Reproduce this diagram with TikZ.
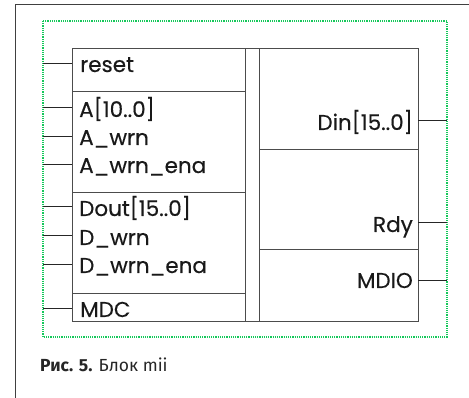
\documentclass[tikz,border=0pt]{standalone}
\usepackage{fontspec}
\setmainfont{Poppins}
\newfontfamily\lblfont{Poppins}[FakeBold=0.35]
\newfontfamily\capfont{Fira Sans}
\definecolor{dotgreen}{RGB}{20,200,90}
\begin{document}
\begin{tikzpicture}[x=1pt,y=-1pt,
  ln/.style={draw=black!70, line width=1pt},
  pin/.style={draw=black!85, line width=0.9pt},
  lbl/.style={inner sep=0pt, font=\lblfont\fontsize{21.5}{22}\selectfont, text=black!90},
  lbll/.style={lbl, anchor=base west},
  lblr/.style={lbl, anchor=base east}]
\useasboundingbox (0,0) rectangle (469,398);
% outer page frame
\draw[draw=black!75, line width=1pt] (15,398) -- (15,5) -- (469,5);
% green dotted frame
\draw[draw=dotgreen, line width=1.2pt, dash pattern=on 1.2pt off 1pt] (43,21) rectangle (447,337);
% main box
\coordinate (bl) at (72,49);
\coordinate (br) at (418,322);
\draw[ln] (bl) rectangle (br);
\draw[ln] (245,49) -- (245,322);
\draw[ln] (259,49) -- (259,322);
\draw[ln] (72,92) -- (245,92);
\draw[ln] (72,193) -- (245,193);
\draw[ln] (72,294) -- (245,294);
\draw[ln] (259,150) -- (418,150);
\draw[ln] (259,250) -- (418,250);
% left labels
\node[lbll] (reset) at (80,72) {reset};
\node[lbll] (a) at (79,117) {A[10..0]};
\node[lbll] (awrn) at (79,145) {A\_wrn};
\node[lbll] (awrnena) at (79,173) {A\_wrn\_ena};
\node[lbll] (dout) at (79,216) {Dout[15..0]};
\node[lbll] (dwrn) at (79,245) {D\_wrn};
\node[lbll] (dwrnena) at (79,273) {D\_wrn\_ena};
\node[lbll] (mdc) at (80,317) {MDC};
% right labels
\node[lblr] (din) at (413,130) {Din[15..0]};
\node[lblr] (rdy) at (413,232) {Rdy};
\node[lblr] (mdio) at (413,288) {MDIO};
% left pins
\foreach \n/\y in {reset/63, a/107, awrn/136, awrnena/164, dout/206, dwrn/235, dwrnena/264, mdc/308}{
  \coordinate (\n-in) at (72,\y);
  \coordinate (\n-end) at (43,\y);
  \draw[pin] (\n-end) -- (\n-in);
}
% right pins
\foreach \n/\y in {din/120, rdy/222, mdio/280}{
  \coordinate (\n-out) at (418,\y);
  \coordinate (\n-end) at (447,\y);
  \draw[pin] (\n-out) -- (\n-end);
}
% caption
\node[anchor=base west, inner sep=0pt, text=black!85, font=\capfont\fontsize{17.5}{18}\selectfont] (cap) at (40,371) {\textbf{Рис. 5.} Блок mii};
\end{tikzpicture}
\end{document}
